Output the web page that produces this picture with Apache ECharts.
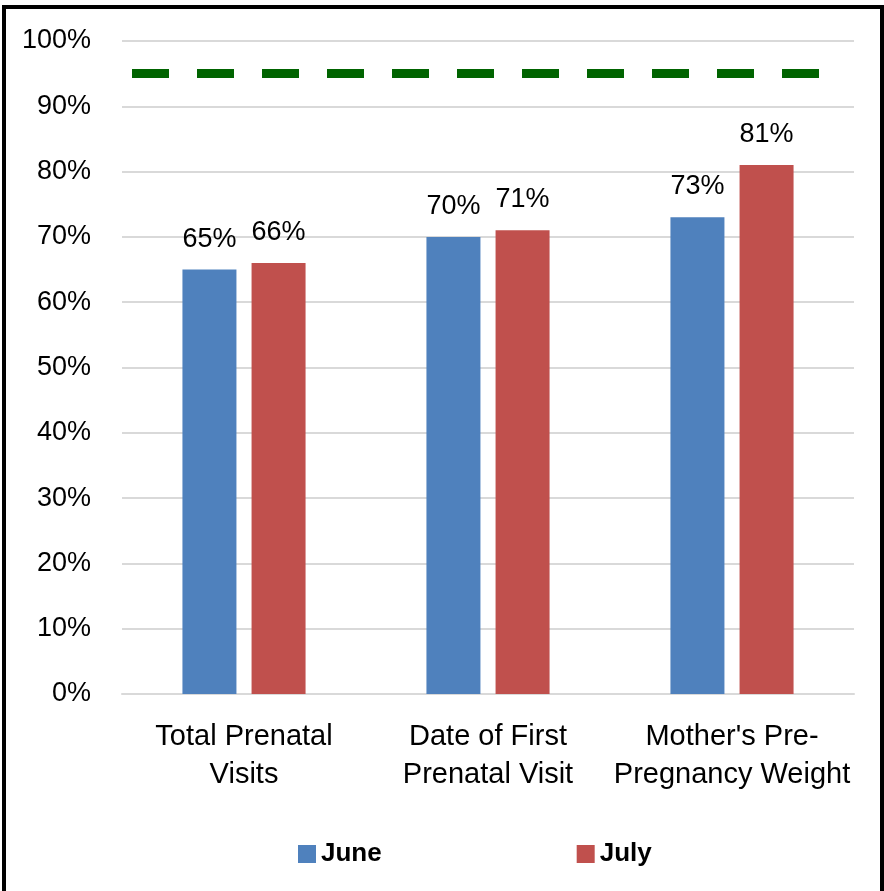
<!DOCTYPE html>
<html>
<head>
<meta charset="utf-8">
<script src="https://cdn.jsdelivr.net/npm/echarts@6/dist/echarts.min.js"></script>
<style>
html, body { margin: 0; padding: 0; background: #ffffff; }
#chart { position: absolute; left: 0; top: 0; width: 884px; height: 891px; }
#frame {
  position: absolute; left: 2px; top: 5px; width: 874px; height: 900px;
  border: 4px solid #000000; pointer-events: none;
}
</style>
</head>
<body>
<div id="chart"></div>
<div id="frame"></div>
<script>
var categories = ["Total Prenatal\nVisits", "Date of First\nPrenatal Visit", "Mother's Pre-\nPregnancy Weight"];
var june = [65, 70, 73];
var july = [66, 71, 81];
var goal = 95;

var font = "Liberation Sans";
var chart = echarts.init(document.getElementById("chart"));

// 11 dashes then a long gap so the line ends on a gap like the original
var dash = [];
for (var i = 0; i < 11; i++) { dash.push(37); dash.push(28); }
dash[dash.length - 1] = 63;

chart.setOption({
  backgroundColor: "#ffffff",
  animation: false,
  grid: { left: 122, right: 30, top: 41, bottom: 197 },
  legend: {
    left: 293,
    top: 836,
    itemWidth: 18,
    itemHeight: 18,
    itemGap: 195,
    icon: "rect",
    textStyle: { fontFamily: font, fontSize: 26, fontWeight: "bold", color: "#000000" },
    data: ["June", "July"]
  },
  xAxis: {
    type: "category",
    data: categories,
    axisLine: { lineStyle: { color: "#d9d9d9", width: 2 } },
    axisTick: { show: false },
    axisLabel: {
      fontFamily: font,
      fontSize: 29,
      lineHeight: 38,
      color: "#000000",
      margin: 24,
      interval: 0
    }
  },
  yAxis: {
    type: "value",
    min: 0,
    max: 100,
    interval: 10,
    axisLine: { show: false },
    axisTick: { show: false },
    splitLine: { lineStyle: { color: "#d9d9d9", width: 2 } },
    axisLabel: {
      formatter: "{value}%",
      fontFamily: font,
      fontSize: 27,
      color: "#000000",
      margin: 31
    }
  },
  series: [
    {
      name: "June",
      type: "bar",
      data: june,
      barWidth: 54,
      barGap: "28%",
      itemStyle: { color: "#4f81bd" },
      label: {
        show: true, position: "top", distance: 17,
        formatter: "{c}%", fontFamily: font, fontSize: 27, color: "#000000"
      },
      markLine: {
        silent: true,
        symbol: "none",
        label: { show: false },
        lineStyle: { color: "#006400", width: 9, type: dash, dashOffset: 740, cap: "butt" },
        data: [{ yAxis: goal }]
      }
    },
    {
      name: "July",
      type: "bar",
      data: july,
      barWidth: 54,
      itemStyle: { color: "#c0504d" },
      label: {
        show: true, position: "top", distance: 17,
        formatter: "{c}%", fontFamily: font, fontSize: 27, color: "#000000"
      }
    }
  ]
});
</script>
</body>
</html>
